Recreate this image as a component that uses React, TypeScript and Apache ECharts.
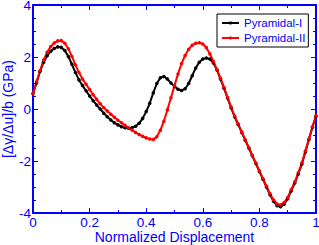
import React, { useEffect, useRef } from "react";
import * as echarts from "echarts";

const STEP = 0.0125;
const pyramidalI = [
  0.6, 1.0, 1.45, 1.8, 2.05, 2.22, 2.33, 2.39, 2.37, 2.25,
  2.02, 1.72, 1.4, 1.12, 0.9, 0.7, 0.5, 0.32, 0.15, 0.0,
  -0.16, -0.3, -0.42, -0.53, -0.61, -0.68, -0.72, -0.74, -0.72, -0.66,
  -0.55, -0.36, -0.1, 0.22, 0.62, 0.98, 1.2, 1.25, 1.15, 1.0,
  0.87, 0.76, 0.71, 0.78, 0.98, 1.28, 1.58, 1.8, 1.92, 1.96,
  1.92, 1.77, 1.5, 1.15, 0.8, 0.42, 0.05, -0.3, -0.6, -0.9,
  -1.2, -1.5, -1.8, -2.1, -2.4, -2.7, -3.0, -3.3, -3.55, -3.72,
  -3.76, -3.66, -3.45, -3.15, -2.85, -2.5, -2.12, -1.65, -1.17, -0.7,
  -0.28,
];
const pyramidalII = [
  0.6, 1.05, 1.48, 1.88, 2.18, 2.4, 2.54, 2.62, 2.63, 2.53,
  2.32, 2.02, 1.7, 1.4, 1.15, 0.95, 0.75, 0.55, 0.37, 0.2,
  0.05, -0.08, -0.2, -0.32, -0.43, -0.53, -0.63, -0.72, -0.81, -0.9,
  -0.98, -1.05, -1.11, -1.15, -1.17, -1.07, -0.82, -0.47, -0.03, 0.43,
  0.9, 1.35, 1.75, 2.06, 2.3, 2.45, 2.53, 2.55, 2.5, 2.36,
  2.12, 1.83, 1.52, 1.18, 0.83, 0.45, 0.08, -0.27, -0.58, -0.88,
  -1.18, -1.48, -1.78, -2.08, -2.38, -2.68, -2.97, -3.26, -3.5, -3.65,
  -3.69, -3.6, -3.4, -3.1, -2.8, -2.45, -2.08, -1.62, -1.15, -0.68,
  -0.25,
];
const seriesNames = ["Pyramidal-I", "Pyramidal-II"];
const xName = "Normalized Displacement";
const yName = "[Δγ/Δu]/b (GPa)";

const BLUE = "#0000ff";
const FONT = "Liberation Sans";

export default function App() {
  const ref = useRef<HTMLDivElement>(null);
  useEffect(() => {
    if (!ref.current) return;
    const chart = echarts.init(ref.current, undefined, { renderer: "svg" });
    const toPts = (arr: number[]) => arr.map((v, i) => [i * STEP, v]);
    const axisCommon = {
      type: "value" as const,
      axisLine: { show: true, onZero: false, lineStyle: { color: BLUE, width: 2 } },
      axisTick: { show: true, inside: true, length: 5, lineStyle: { color: BLUE, width: 1 } },
      minorTick: { show: true, length: 3, lineStyle: { color: BLUE, width: 1 } },
      splitLine: { show: false },
    };
    chart.setOption({
      animation: false,
      backgroundColor: "#ffffff",
      grid: { left: 33, right: 3, top: 5, bottom: 32, containLabel: false, outerBoundsMode: "none" },
      legend: {
        orient: "vertical",
        left: 217,
        top: 14,
        padding: [3, 3, 3, 4],
        itemGap: 3,
        itemWidth: 17,
        itemHeight: 4,
        itemTextGap: 2,
        borderColor: "#000",
        borderWidth: 1,
        backgroundColor: "#fff",
        borderRadius: 0,
        textStyle: { color: BLUE, fontFamily: FONT, fontSize: 11.5, padding: 0 },
        data: seriesNames,
      },
      xAxis: [
        {
          ...axisCommon,
          position: "bottom",
          min: 0,
          max: 1,
          interval: 0.2,
          minorTick: { ...axisCommon.minorTick, splitNumber: 2 },
          axisLabel: { color: BLUE, fontFamily: FONT, fontSize: 13.5, lineHeight: 13, margin: 3 },
          name: xName,
          nameLocation: "middle",
          nameGap: 17,
          nameMoveOverlap: false,
          nameTextStyle: { color: BLUE, fontFamily: FONT, fontSize: 14, lineHeight: 14 },
        },
        {
          ...axisCommon,
          position: "top",
          min: 0,
          max: 1,
          interval: 0.2,
          minorTick: { ...axisCommon.minorTick, splitNumber: 2 },
          axisLabel: { show: false },
        },
      ],
      yAxis: [
        {
          ...axisCommon,
          position: "left",
          min: -4,
          max: 4,
          interval: 2,
          minorTick: { ...axisCommon.minorTick, splitNumber: 4 },
          axisLabel: { color: BLUE, fontFamily: FONT, fontSize: 13.5, lineHeight: 10, margin: 2 },
          name: yName,
          nameLocation: "middle",
          nameRotate: 90,
          nameGap: 18,
          nameMoveOverlap: false,
          nameTextStyle: { color: BLUE, fontFamily: FONT, fontSize: 14 },
        },
        {
          ...axisCommon,
          position: "right",
          min: -4,
          max: 4,
          interval: 2,
          minorTick: { ...axisCommon.minorTick, splitNumber: 4 },
          axisLabel: { show: false },
        },
      ],
      series: [
        {
          name: seriesNames[0],
          type: "line",
          data: toPts(pyramidalI),
          symbol: "circle",
          symbolSize: 3.5,
          showSymbol: true,
          itemStyle: { color: "#000000" },
          lineStyle: { color: "#000000", width: 2 },
          clip: true,
        },
        {
          name: seriesNames[1],
          type: "line",
          data: toPts(pyramidalII),
          symbol: "circle",
          symbolSize: 3.5,
          showSymbol: true,
          itemStyle: { color: "#ff0000" },
          lineStyle: { color: "#ff0000", width: 2 },
          clip: true,
        },
      ],
    });
    return () => chart.dispose();
  }, []);
  return (
    <div
      ref={ref}
      style={{ position: "fixed", left: 0, top: 0, width: 319, height: 245 }}
    />
  );
}
